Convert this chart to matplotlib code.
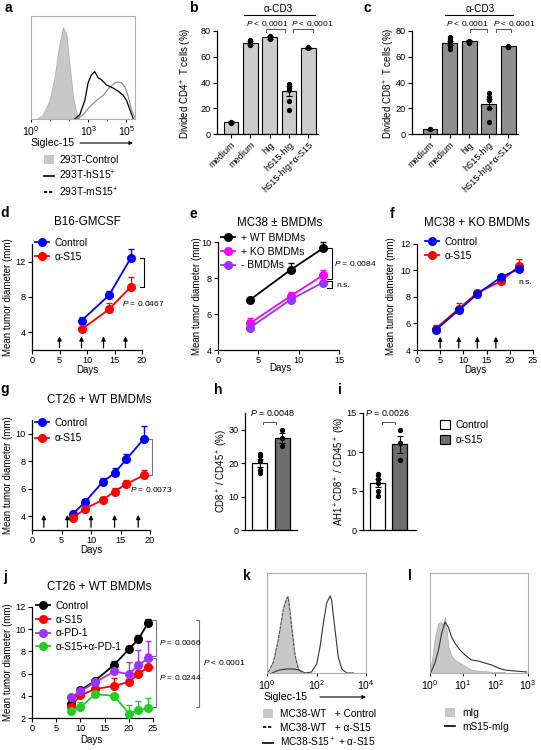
import numpy as np
import matplotlib
matplotlib.use('Agg')
import matplotlib.pyplot as plt
from matplotlib.patches import Patch
from matplotlib.lines import Line2D

plt.rcParams['font.family'] = ['Liberation Sans', 'DejaVu Sans']
plt.rcParams['mathtext.fontset'] = 'custom'
plt.rcParams['mathtext.rm'] = 'Liberation Sans'
plt.rcParams['mathtext.it'] = 'Liberation Sans:italic'
plt.rcParams['mathtext.bf'] = 'Liberation Sans:bold'
plt.rcParams['axes.linewidth'] = 0.9

# ---------------- data ----------------
# a: flow histograms (x = log10 intensity, y = % of max)
a_ctrl_x = [0.27, 0.62, 0.97, 1.24, 1.46, 1.68, 1.85, 2.03, 2.2, 2.38, 2.55]
a_ctrl_y = [0, 4, 18, 41, 70, 89, 83, 51, 22, 6, 0]
a_hs15_x = [2.29, 2.55, 2.82, 2.99, 3.17, 3.34, 3.52, 3.69, 3.96, 4.31, 4.57, 4.83, 5.01, 5.18, 5.36]
a_hs15_y = [0, 4, 18, 35, 43, 46, 40, 38, 33, 30, 27, 23, 18, 9, 0]
a_ms15_x = [2.38, 2.73, 3.08, 3.43, 3.78, 4.13, 4.39, 4.57, 4.75, 4.92, 5.09, 5.27, 5.45]
a_ms15_y = [0, 4, 12, 18, 23, 31, 35, 36, 35, 31, 22, 9, 1]

# b / c: divided T cells (%)
bc_labels = ['medium', 'medium', 'hIg', 'hS15-hIg', 'hS15-hIg+α-S15']
b_means = [9, 71, 75, 33.5, 67]
b_sem = [0.8, 1.5, 1.0, 4.0, 0.7]
b_dots = [[8.5, 9.5], [73, 72, 71, 70, 69], [76, 75, 74], [39, 35.5, 34, 26, 18.5], [67.5, 67]]
c_means = [3.5, 70.5, 72, 23.5, 68]
c_sem = [0.5, 1.5, 0.8, 3.5, 0.6]
c_dots = [[3.5, 3.5], [75, 74, 72, 71, 70, 68, 66], [72.5, 71.5, 71], [32, 29, 26.5, 20, 9.5], [68.5, 67.5]]

# d: B16-GMCSF
d_days = [9, 14, 18]
d_ctrl = [5.3, 8.2, 12.5]
d_ctrl_err = [0.4, 0.5, 1.0]
d_s15 = [4.3, 6.6, 9.2]
d_s15_err = [0.3, 0.7, 1.1]
d_arrows = [5, 9, 13, 17]

# e: MC38 +/- BMDMs
e_days = [4, 9, 13]
e_wt = [6.8, 8.45, 9.65]
e_wt_err = [0.1, 0.4, 0.35]
e_ko = [5.5, 7.0, 8.15]
e_ko_err = [0.3, 0.25, 0.3]
e_none = [5.25, 6.8, 7.75]
e_none_err = [0.1, 0.1, 0.1]

# f: MC38 + KO BMDMs
f_days = [4, 9, 13, 18, 22]
f_ctrl = [5.5, 7.0, 8.2, 9.45, 10.1]
f_ctrl_err = [0.3, 0.2, 0.15, 0.2, 0.3]
f_s15 = [5.6, 7.1, 8.3, 9.15, 10.3]
f_s15_err = [0.25, 0.45, 0.2, 0.15, 0.5]
f_arrows = [5, 9, 13, 17]

# g: CT26 + WT BMDMs
g_days = [7, 9, 12, 14, 16, 19]
g_ctrl = [4.2, 5.05, 6.5, 7.15, 8.15, 9.65]
g_ctrl_err = [0.15, 0.2, 0.3, 0.35, 0.4, 0.9]
g_s15 = [3.9, 4.55, 5.2, 5.8, 6.35, 7.0]
g_s15_err = [0.1, 0.15, 0.2, 0.25, 0.3, 0.4]
g_arrows = [2, 6, 10, 14, 18]

# h / i
hi_groups = ['Control', 'α-S15']
h_means = [20, 27.5]
h_sem = [1.2, 1.5]
h_dots = [[22.8, 22, 20.5, 18, 17], [30, 27.5, 25]]
i_means = [6.0, 11.0]
i_sem = [0.5, 1.1]
i_dots = [[7.2, 7.0, 6.5, 6.0, 5.0, 4.3], [12.8, 11.2, 9.0]]

# j: CT26 + WT BMDMs, combination
j_days = [8, 10, 13, 17, 20, 22, 24]
j_ctrl = [3.3, 4.5, 5.35, 6.8, 8.2, 9.1, 10.6]
j_ctrl_err = [0.3, 0.2, 0.2, 0.3, 0.3, 0.35, 0.35]
j_s15 = [3.0, 4.05, 4.6, 4.9, 5.25, 5.95, 6.6]
j_s15_err = [0.2, 0.3, 0.35, 0.7, 0.3, 0.35, 1.2]
j_pd1 = [3.85, 4.4, 5.2, 6.2, 5.95, 6.75, 7.4]
j_pd1_err = [0.2, 0.2, 0.2, 0.3, 1.1, 1.4, 1.55]
j_combo = [2.65, 2.95, 4.15, 4.0, 2.4, 2.7, 2.9]
j_combo_err = [0.15, 0.45, 0.2, 0.15, 0.8, 0.85, 0.9]

# k / l: flow histograms
k_ctrl_x = [0.05, 0.26, 0.46, 0.66, 0.79, 0.86, 1.0, 1.13, 1.27, 1.4]
k_ctrl_y = [1, 13, 36, 66, 77, 75, 43, 16, 3, 0]
k_wt_x = [0.05, 0.26, 0.46, 0.66, 0.79, 0.86, 1.0, 1.13, 1.27, 1.4]
k_wt_y = [1, 11, 34, 64, 74, 76, 45, 18, 4, 0]
k_s15_x = [0.2, 0.5, 0.8, 1.1, 1.3, 1.54, 1.8, 2.01, 2.14, 2.28, 2.41, 2.55, 2.61, 2.75, 2.88, 3.02, 3.22, 3.5]
k_s15_y = [0, 3, 4, 4, 3, 0, 1, 9, 26, 50, 70, 77, 73, 43, 16, 4, 0, 0]
l_ctrl_x = [0.0, 0.08, 0.15, 0.26, 0.33, 0.39, 0.46, 0.51, 0.56, 0.66, 0.76, 0.92, 1.07, 1.27, 1.58, 1.99, 2.29]
l_ctrl_y = [1, 17, 36, 50, 51, 48, 56, 43, 26, 17, 13, 10, 7, 3, 2, 1, 1]
l_s15_x = [0.02, 0.15, 0.26, 0.36, 0.46, 0.56, 0.66, 0.76, 0.92, 1.07, 1.27, 1.48, 1.68, 1.89, 2.09, 2.29, 2.6, 2.96]
l_s15_y = [0, 10, 23, 40, 51, 46, 36, 30, 23, 18, 13, 12, 10, 8, 5, 3, 2, 1]

BLUE, RED, MAG, PURP, GREEN = '#0000ff', '#ff0000', '#ff00ff', '#9933ff', '#22cc22'
FS_TICK, FS_LEG, FS_TITLE, FS_LAB, FS_P = 6.6, 7.4, 8.4, 7.0, 6.0

W, H = 541, 750
fig = plt.figure(figsize=(W / 100, H / 100), dpi=100)


def px_ax(x0, y0, x1, y1):
    return fig.add_axes([x0 / W, 1 - y1 / H, (x1 - x0) / W, (y1 - y0) / H])


def ftext(x, y, s, **kw):
    kw.setdefault('ha', 'center')
    kw.setdefault('va', 'center')
    fig.text(x / W, 1 - y / H, s, **kw)


def style(ax):
    for s in ['top', 'right']:
        ax.spines[s].set_visible(False)
    ax.tick_params(length=3, width=0.8, labelsize=FS_TICK, pad=1.5)


def hist_box(ax):
    for s in ax.spines.values():
        s.set_color('#b0b0b0')
        s.set_linewidth(0.8)
    ax.set_yticks([])
    ax.tick_params(axis='x', length=2.5, width=0.7, labelsize=7.5, pad=1.5, which='major')
    ax.tick_params(axis='x', length=1.5, width=0.5, which='minor')


def fig_legend(handles, labels, x, y, fs=FS_LEG, **kw):
    kw.setdefault('handlelength', 1.4)
    kw.setdefault('handletextpad', 0.5)
    kw.setdefault('labelspacing', 0.35)
    fig.legend(handles, labels, loc='upper left', bbox_to_anchor=(x / W, 1 - y / H),
               frameon=False, fontsize=fs, borderpad=0, borderaxespad=0, numpoints=1, **kw)


def series(ax, days, vals, err, color, label):
    ax.errorbar(days, vals, yerr=[np.zeros(len(err)), err], fmt='none', ecolor=color,
                elinewidth=1.0, capsize=2.5, capthick=1.0, zorder=2, clip_on=False)
    ln, = ax.plot(days, vals, '-o', color=color, ms=5.5, lw=1.3, zorder=3, clip_on=False, label=label)
    return ln


def bracket(ax, x, y0, y1, tick, color='k'):
    ax.plot([x - tick, x, x, x - tick], [y0, y0, y1, y1], color=color, lw=0.8, clip_on=False)


def arrows(ax, days, y0, y1):
    for d in days:
        ax.annotate('', xy=(d, y1), xytext=(d, y0),
                    arrowprops=dict(arrowstyle='-|>', color='k', lw=0.9, mutation_scale=6,
                                    shrinkA=0, shrinkB=0))


def bar_panel(ax, means, sem, dots, color, width):
    x = np.arange(len(means))
    ax.bar(x, means, width=width, color=color, edgecolor='k', linewidth=0.8, zorder=1)
    ax.errorbar(x, means, yerr=sem, fmt='none', ecolor='k', elinewidth=0.8,
                capsize=2.5, capthick=0.8, zorder=3)
    for xi, d in zip(x, dots):
        ax.plot([xi] * len(d), d, 'o', color='k', ms=2.8, zorder=4, clip_on=False)
    return x


# panel letters
for lab, x, y in [('a', 8, 8), ('b', 193, 8), ('c', 367, 8), ('d', 5, 213), ('e', 193, 214),
                  ('f', 392, 214), ('g', 5, 389), ('h', 218, 390), ('i', 340, 390),
                  ('j', 5, 577), ('k', 247, 576), ('l', 410, 576)]:
    ftext(x, y, lab, fontsize=10, fontweight='bold')

# ---------------- a ----------------
ax = px_ax(31, 16, 135, 119)
ax.fill_between(a_ctrl_x, a_ctrl_y, color='#c8c8c8', lw=0.6, edgecolor='#b0b0b0')
ax.plot(a_ms15_x, a_ms15_y, color='#888888', lw=0.8)
ax.plot(a_hs15_x, a_hs15_y, color='k', lw=0.9)
ax.set_xlim(0, 5.45)
ax.set_ylim(0, 100)
ax.set_xticks([0, 3, 5])
ax.set_xticklabels(['10$^0$', '10$^3$', '10$^5$'])
ax.set_xticks([1, 2, 4], minor=True)
hist_box(ax)
ftext(30, 143, 'Siglec-15', fontsize=7.6, ha='left')
ax.annotate('', xy=(133, H - 143), xytext=(80, H - 143), xycoords='figure pixels',
            arrowprops=dict(arrowstyle='-|>', color='k', lw=0.8, mutation_scale=5, shrinkA=0, shrinkB=0))
fig_legend([Patch(facecolor='#c8c8c8', edgecolor='none'), Line2D([], [], color='k', lw=1.2),
            Line2D([], [], color='k', lw=1.2, ls=(0, (2, 1)))],
           ['293T-Control', '293T-hS15$^{+}$', '293T-mS15$^{+}$'], 44, 155,
           handlelength=1.0, handleheight=0.9)

# ---------------- b / c ----------------
for (x0, x1, left), means, sem, dots, col, ylab, ylx, ctr, lines, ptx, brk in [
        ((217, 318, -0.73), b_means, b_sem, b_dots, '#cccccc', 'Divided CD4$^+$ T cells (%)', 186,
         2.44, (0.65, 4.35), (1.85, 4.2), [(1.8, 2.8), (3.2, 4.26)]),
        ((412, 518, -0.92), c_means, c_sem, c_dots, '#8f8f8f', 'Divided CD8$^+$ T cells (%)', 389,
         2.56, (0.77, 4.26), (1.9, 4.3), [(2.05, 2.92), (3.38, 4.15)])]:
    ax = px_ax(x0, 31, x1, 134)
    x = bar_panel(ax, means, sem, dots, col, 0.76)
    ax.set_xlim(left, 4.5)
    ax.set_ylim(0, 80)
    ax.set_yticks([0, 20, 40, 60, 80])
    ax.set_xticks(x)
    ax.set_xticklabels(bc_labels, rotation=45, ha='right', va='top', rotation_mode='anchor', fontsize=7)
    style(ax)
    xt = ax.get_xaxis_transform()
    ax.plot(lines, [1.155, 1.155], transform=xt, clip_on=False, color='k', lw=0.8)
    ax.text(ctr, 1.21, 'α-CD3', transform=xt, ha='center', va='center', fontsize=7.2)
    for px_, (bl, br) in zip(ptx, brk):
        ax.text(px_, 1.07, '$P$ < 0.0001', transform=xt, ha='center', va='center', fontsize=FS_P)
        ax.plot([bl, bl, br, br], [0.995, 1.02, 1.02, 0.995], transform=xt, clip_on=False,
                color='#555555', lw=0.7)
    ftext(ylx, 83, ylab, fontsize=FS_LAB, rotation=90)

# ---------------- d ----------------
ax = px_ax(32, 244.5, 142, 349.5)
h1 = series(ax, d_days, d_ctrl, d_ctrl_err, BLUE, 'Control')
h2 = series(ax, d_days, d_s15, d_s15_err, RED, 'α-S15')
arrows(ax, d_arrows, 2.2, 3.5)
ax.set_xlim(0, 20)
ax.set_ylim(2, 14)
ax.set_yticks([4, 8, 12])
ax.set_xticks([0, 5, 10, 15, 20])
style(ax)
bracket(ax, 20.3, d_ctrl[-1], d_s15[-1], 0.6)
ax.text(16.4, 7.2, '$P$ = 0.0467', fontsize=FS_P, ha='left', va='center')
fig_legend([h1, h2], ['Control', 'α-S15'], 35, 238)
ftext(87, 222, 'B16-GMCSF', fontsize=FS_TITLE)
ftext(87, 370, 'Days', fontsize=FS_LAB)
ftext(8, 297, 'Mean tumor diameter (mm)', fontsize=FS_LAB, rotation=90)

# ---------------- e ----------------
ax = px_ax(218, 242, 339, 350)
h1 = series(ax, e_days, e_wt, e_wt_err, 'k', '+ WT BMDMs')
h2 = series(ax, e_days, e_ko, e_ko_err, MAG, '+ KO BMDMs')
h3 = series(ax, e_days, e_none, e_none_err, PURP, '- BMDMs')
ax.set_xlim(0, 15)
ax.set_ylim(4, 10)
ax.set_yticks([4, 6, 8, 10])
ax.set_xticks([0, 5, 10, 15])
style(ax)
bracket(ax, 14.15, e_wt[-1], 7.95, 0.6)
bracket(ax, 14.15, 7.85, 7.45, 0.6)
ax.text(14.4, 8.83, '$P$ = 0.0084', fontsize=FS_P, ha='left', va='center')
ax.text(14.7, 7.6, 'n.s.', fontsize=FS_P, ha='left', va='center')
fig_legend([h1, h2, h3], ['+ WT BMDMs', '+ KO BMDMs', '- BMDMs'], 221, 233)
ftext(280, 223, 'MC38 ± BMDMs', fontsize=FS_TITLE)
ftext(280, 368, 'Days', fontsize=FS_LAB)
ftext(197, 296, 'Mean tumor diameter (mm)', fontsize=FS_LAB, rotation=90)

# ---------------- f ----------------
ax = px_ax(417, 243.5, 533, 350)
h1 = series(ax, f_days, f_s15, f_s15_err, RED, 'α-S15')
h0 = series(ax, f_days, f_ctrl, f_ctrl_err, BLUE, 'Control')
arrows(ax, f_arrows, 4.15, 5.0)
ax.set_xlim(0, 25)
ax.set_ylim(4, 12)
ax.set_yticks([4, 6, 8, 10, 12])
ax.set_xticks([0, 5, 10, 15, 20, 25])
style(ax)
ax.text(21.8, 9.1, 'n.s.', fontsize=FS_P, ha='left', va='center')
fig_legend([h0, h1], ['Control', 'α-S15'], 425, 237)
ftext(477, 223, 'MC38 + KO BMDMs', fontsize=FS_TITLE)
ftext(475, 370, 'Days', fontsize=FS_LAB)
ftext(391, 296, 'Mean tumor diameter (mm)', fontsize=FS_LAB, rotation=90)

# ---------------- g ----------------
ax = px_ax(32, 420, 150, 530)
h1 = series(ax, g_days, g_ctrl, g_ctrl_err, BLUE, 'Control')
h2 = series(ax, g_days, g_s15, g_s15_err, RED, 'α-S15')
arrows(ax, g_arrows, 3.2, 4.1)
ax.set_xlim(0, 20)
ax.set_ylim(3, 11)
ax.set_yticks([4, 6, 8, 10])
ax.set_xticks([0, 5, 10, 15, 20])
style(ax)
bracket(ax, 20.3, g_ctrl[-1], g_s15[-1], 0.5, color='#777777')
ax.text(16.6, 5.95, '$P$ = 0.0073', fontsize=FS_P, ha='left', va='center')
fig_legend([h1, h2], ['Control', 'α-S15'], 35, 418, labelspacing=0.5)
ftext(99, 400, 'CT26 + WT BMDMs', fontsize=FS_TITLE)
ftext(91, 550, 'Days', fontsize=FS_LAB)
ftext(8, 475, 'Mean tumor diameter (mm)', fontsize=FS_LAB, rotation=90)

# ---------------- h / i ----------------
for (x0, x1, right), means, sem, dots, ymax, yt, ylab, ylx, ptx, brk, ptxt in [
        ((245, 297, 1.68), h_means, h_sem, h_dots, 35, [0, 10, 20, 30], 'CD8$^+$ / CD45$^+$ (%)', 222,
         0.55, (0.14, 0.73), '$P$ = 0.0048'),
        ((363, 416, 1.73), i_means, i_sem, i_dots, 15, [0, 5, 10, 15], 'AH1$^+$CD8$^+$ / CD45$^+$ (%)', 340,
         0.41, (0.17, 0.77), '$P$ = 0.0026')]:
    ax = px_ax(x0, 413, x1, 530)
    x = np.arange(2)
    ax.bar(x, means, width=0.68, color=['white', '#6e6e6e'], edgecolor='k', linewidth=0.9, zorder=1)
    ax.errorbar(x, means, yerr=sem, fmt='none', ecolor='k', elinewidth=0.8, capsize=2.5, capthick=0.8, zorder=3)
    for xi, d in zip(x, dots):
        ax.plot([xi] * len(d), d, 'o', color='k', ms=2.8, zorder=4)
    ax.set_xlim(-0.68, right)
    ax.set_ylim(0, ymax)
    ax.set_yticks(yt)
    ax.set_xticks([])
    style(ax)
    ax.text(ptx, ymax, ptxt, fontsize=6.4, ha='center', va='center', clip_on=False)
    yb = ymax * (1 - 9 / 117)
    ax.plot([brk[0], brk[0], brk[1], brk[1]], [yb - ymax * 0.02, yb, yb, yb - ymax * 0.02],
            color='#555555', lw=0.7, clip_on=False)
    ftext(ylx, 471, ylab, fontsize=6.9, rotation=90)
fig_legend([Patch(facecolor='white', edgecolor='k', lw=0.8), Patch(facecolor='#6e6e6e', edgecolor='k', lw=0.8)],
           hi_groups, 440, 420, handlelength=1.0, handleheight=1.0, labelspacing=0.45)

# ---------------- j ----------------
ax = px_ax(32, 607, 153, 718)
h1 = series(ax, j_days, j_ctrl, j_ctrl_err, 'k', 'Control')
h2 = series(ax, j_days, j_s15, j_s15_err, RED, 'α-S15')
h3 = series(ax, j_days, j_pd1, j_pd1_err, PURP, 'α-PD-1')
h4 = series(ax, j_days, j_combo, j_combo_err, GREEN, 'α-S15+α-PD-1')
ax.set_xlim(0, 25)
ax.set_ylim(2, 12)
ax.set_yticks([2, 4, 6, 8, 10, 12])
ax.set_xticks([0, 5, 10, 15, 20, 25])
style(ax)
bracket(ax, 25.65, 10.87, 7.58, 0.85, color='#777777')
bracket(ax, 25.65, 7.37, 2.96, 0.85, color='#777777')
bracket(ax, 34.6, 10.87, 2.96, 0.7, color='#777777')
ax.text(26.3, 8.8, '$P$ = 0.0066', fontsize=FS_P, ha='left', va='center')
ax.text(26.3, 5.64, '$P$ = 0.0244', fontsize=FS_P, ha='left', va='center')
ax.text(35.25, 7.0, '$P$ < 0.0001', fontsize=FS_P, ha='left', va='center')
fig_legend([h1, h2, h3, h4], ['Control', 'α-S15', 'α-PD-1', 'α-S15+α-PD-1'], 36, 601)
ftext(99, 587, 'CT26 + WT BMDMs', fontsize=FS_TITLE)
ftext(91, 740, 'Days', fontsize=FS_LAB)
ftext(8, 662, 'Mean tumor diameter (mm)', fontsize=FS_LAB, rotation=90)

# ---------------- k ----------------
ax = px_ax(267, 573, 366, 673)
ax.fill_between(k_ctrl_x, k_ctrl_y, color='#c8c8c8', lw=0.6, edgecolor='#b0b0b0')
ax.plot(k_wt_x, k_wt_y, color='#555555', lw=0.8, ls=(0, (3, 1)))
ax.plot(k_s15_x, k_s15_y, color='#333333', lw=0.8)
ax.set_xlim(0, 4)
ax.set_ylim(0, 100)
ax.set_xticks([0, 2, 4])
ax.set_xticklabels(['10$^0$', '10$^2$', '10$^4$'])
hist_box(ax)
ftext(263, 697, 'Siglec-15', fontsize=7.6, ha='left')
ax.annotate('', xy=(366, H - 697), xytext=(320, H - 697), xycoords='figure pixels',
            arrowprops=dict(arrowstyle='-|>', color='k', lw=0.8, mutation_scale=5, shrinkA=0, shrinkB=0))
fig_legend([Patch(facecolor='#c8c8c8', edgecolor='none'), Line2D([], [], color='k', lw=1.2, ls=(0, (2, 1))),
            Line2D([], [], color='k', lw=1.2)],
           ['MC38-WT   + Control', 'MC38-WT   + α-S15', 'MC38-S15$^+$ + α-S15'], 263, 709, fs=7.3,
           handlelength=1.0, handleheight=0.9, handletextpad=0.7)

# ---------------- l ----------------
ax = px_ax(430, 573, 528, 673)
ax.fill_between(l_ctrl_x, l_ctrl_y, color='#c8c8c8', lw=0.6, edgecolor='#b0b0b0')
ax.plot(l_s15_x, l_s15_y, color='#333333', lw=0.8)
ax.set_xlim(0, 3)
ax.set_ylim(0, 100)
ax.set_xticks([0, 1, 2, 3])
ax.set_xticklabels(['10$^0$', '10$^1$', '10$^2$', '10$^3$'])
hist_box(ax)
fig_legend([Patch(facecolor='#c8c8c8', edgecolor='none'), Line2D([], [], color='k', lw=1.2)],
           ['mIg', 'mS15-mIg'], 445, 708, fs=7.3, handlelength=1.0, handleheight=0.9, handletextpad=0.7)

fig.savefig('out.png', dpi=100)
